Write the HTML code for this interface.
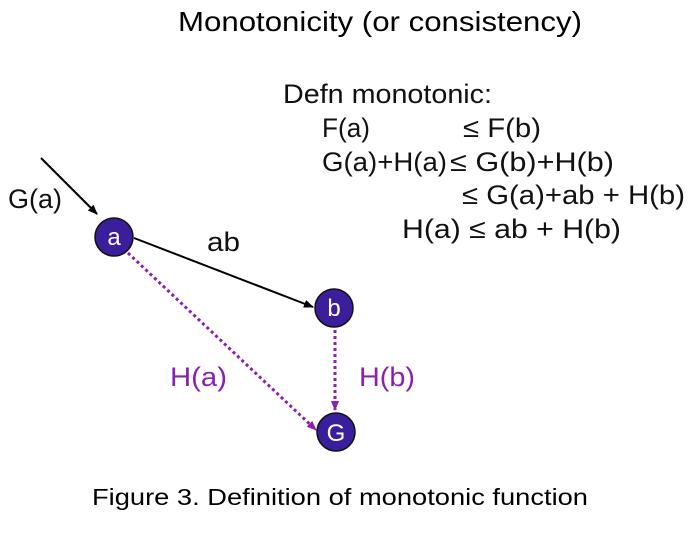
<!DOCTYPE html>
<html><head><meta charset="utf-8"><style>
html,body{margin:0;padding:0;background:#fff;}
svg{display:block}
text{font-family:"Liberation Sans",sans-serif;}
</style></head><body>
<svg width="688" height="540" viewBox="0 0 688 540" xmlns="http://www.w3.org/2000/svg">
<defs>
<marker id="ab" markerWidth="10" markerHeight="10" refX="9" refY="5" orient="auto" markerUnits="userSpaceOnUse"><path d="M0,1 L10,5 L0,9 z" fill="#000"/></marker>
<marker id="ap" markerWidth="10" markerHeight="10" refX="9" refY="5" orient="auto" markerUnits="userSpaceOnUse"><path d="M0,1 L10,5 L0,9 z" fill="#8a1fb0"/></marker>
</defs>
<text x="178" y="31" font-size="28" textLength="404" lengthAdjust="spacingAndGlyphs" fill="#000">Monotonicity (or consistency)</text>
<g font-size="27" fill="#111">
<text x="283" y="103" textLength="209" lengthAdjust="spacingAndGlyphs">Defn monotonic:</text>
<text x="322" y="137" textLength="48" lengthAdjust="spacingAndGlyphs">F(a)</text>
<text x="463" y="137" textLength="78" lengthAdjust="spacingAndGlyphs">≤ F(b)</text>
<text x="322" y="171" textLength="125" lengthAdjust="spacingAndGlyphs">G(a)+H(a)</text>
<text x="450" y="171" textLength="164" lengthAdjust="spacingAndGlyphs">≤ G(b)+H(b)</text>
<text x="462" y="204" textLength="223" lengthAdjust="spacingAndGlyphs">≤ G(a)+ab + H(b)</text>
<text x="402" y="238" textLength="219" lengthAdjust="spacingAndGlyphs">H(a) ≤  ab + H(b)</text>
</g>
<text x="8" y="208" font-size="27" textLength="54" lengthAdjust="spacingAndGlyphs" fill="#111">G(a)</text>
<text x="207" y="251" font-size="27" textLength="33" lengthAdjust="spacingAndGlyphs" fill="#111">ab</text>
<text x="170" y="386" font-size="27" textLength="57" lengthAdjust="spacingAndGlyphs" fill="#8a1fb0">H(a)</text>
<text x="359" y="386" font-size="27" textLength="56" lengthAdjust="spacingAndGlyphs" fill="#8a1fb0">H(b)</text>
<line x1="41" y1="158" x2="97" y2="214" stroke="#000" stroke-width="2" marker-end="url(#ab)"/>
<line x1="134" y1="238" x2="313" y2="307" stroke="#000" stroke-width="2" marker-end="url(#ab)"/>
<line x1="128" y1="253" x2="316" y2="430" stroke="#8a1fb0" stroke-width="3" stroke-dasharray="3,3" marker-end="url(#ap)"/>
<line x1="335" y1="330" x2="335" y2="410" stroke="#8a1fb0" stroke-width="3" stroke-dasharray="3,3" marker-end="url(#ap)"/>
<g stroke="#111" stroke-width="1.5" fill="#3b1e9c">
<circle cx="114" cy="237" r="19"/>
<circle cx="334" cy="308" r="19"/>
<circle cx="336" cy="432" r="19"/>
</g>
<g font-size="24" fill="#fff" text-anchor="middle">
<text x="114" y="245">a</text>
<text x="334" y="316">b</text>
<text x="336" y="441">G</text>
</g>
<text x="92" y="505" font-size="23" textLength="496" lengthAdjust="spacingAndGlyphs" fill="#000">Figure 3. Definition of monotonic function</text>
</svg>
</body></html>
